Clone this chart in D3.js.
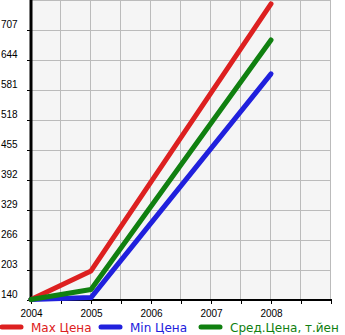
<!DOCTYPE html>
<html>
<head>
<meta charset="utf-8">
<script src="https://cdn.jsdelivr.net/npm/d3@7"></script>
<style>
body { margin: 0; background: #fff; }
svg { display: block; font-family: "DejaVu Sans", sans-serif; }
</style>
</head>
<body>
<svg width="345" height="335"></svg>
<script>
var years = [2004, 2005, 2006, 2007, 2008];
var dataYears = [2004, 2005, 2008];
var maxPrice = [141, 201, 762];
var minPrice = [141, 145, 615];
var avgPrice = [141, 162, 686];
var yTicks = [140, 203, 266, 329, 392, 455, 518, 581, 644, 707];
var seriesNames = ["Max Цена", "Min Цена", "Сред.Цена, т.йен"];
var seriesColors = ["#dd2020", "#2020dd", "#108010"];

var svg = d3.select("svg");
var plotLeft = 31, plotRight = 331, plotTop = 0, plotBottom = 300;

var x = d3.scaleLinear().domain([2004, 2009]).range([plotLeft, plotRight]);
var y = d3.scaleLinear().domain([140, 770]).range([plotBottom, plotTop]);

svg.append("rect")
    .attr("x", plotLeft).attr("y", plotTop)
    .attr("width", plotRight - plotLeft).attr("height", plotBottom - plotTop)
    .attr("fill", "#f5f5f5");

// grid
var halfYears = d3.range(2004.5, 2009.01, 0.5);
svg.append("g").selectAll("line")
    .data(halfYears)
    .enter().append("line")
      .attr("x1", function(d) { return Math.round(x(d)) - 0.5; })
      .attr("x2", function(d) { return Math.round(x(d)) - 0.5; })
      .attr("y1", plotTop).attr("y2", plotBottom)
      .attr("stroke", "#bbb");

var yGrid = d3.range(140 + 63, 771, 63);
svg.append("g").selectAll("line")
    .data(yGrid)
    .enter().append("line")
      .attr("x1", plotLeft).attr("x2", plotRight)
      .attr("y1", function(d) { return Math.round(y(d)) + 0.5; })
      .attr("y2", function(d) { return Math.round(y(d)) + 0.5; })
      .attr("stroke", "#bbb");

// axes
var xAxis = d3.axisBottom(x)
    .tickValues(d3.range(2004, 2009.01, 0.5))
    .tickSize(4)
    .tickFormat(function(d) { return years.indexOf(d) >= 0 ? d : ""; });
var gx = svg.append("g")
    .attr("transform", "translate(0," + plotBottom + ")")
    .call(xAxis);
gx.select(".domain").attr("stroke", "#000").attr("stroke-width", 2).attr("d", "M" + plotLeft + ",0H" + (plotRight + 1));
gx.selectAll(".tick line").attr("stroke", "#000");
gx.selectAll("text").attr("font-size", 10).attr("fill", "#000").attr("dy", "0.95em");

var yAxis = d3.axisLeft(y).tickValues(yTicks).tickSize(4).tickFormat(d3.format("d"));
var gy = svg.append("g")
    .attr("transform", "translate(" + plotLeft + ",0)")
    .call(yAxis);
gy.select(".domain").attr("stroke", "#000").attr("stroke-width", 3).attr("d", "M0," + plotTop + "V" + (plotBottom + 1));
gy.selectAll(".tick line").attr("stroke", "#000");
gy.selectAll("text")
    .attr("font-size", 10).attr("fill", "#000")
    .attr("text-anchor", "start").attr("x", -30).attr("dy", "-0.25em");

// lines
var line = d3.line()
    .x(function(d, i) { return x(dataYears[i]); })
    .y(function(d) { return y(d); });

[maxPrice, minPrice, avgPrice].forEach(function(s, i) {
  svg.append("path")
      .datum(s)
      .attr("d", line)
      .attr("fill", "none")
      .attr("stroke", seriesColors[i])
      .attr("stroke-width", 5)
      .attr("stroke-linecap", "round")
      .attr("stroke-linejoin", "round");
});

// legend
var legendX = [0, 99, 199];
var legend = svg.append("g").selectAll("g")
    .data(seriesNames)
    .enter().append("g")
      .attr("transform", function(d, i) { return "translate(" + legendX[i] + ",327)"; });
legend.append("line")
    .attr("x1", 2).attr("x2", 21)
    .attr("stroke", function(d, i) { return seriesColors[i]; })
    .attr("stroke-width", 5).attr("stroke-linecap", "round");
legend.append("text")
    .attr("x", 31).attr("y", 4.5)
    .attr("font-size", 12)
    .attr("fill", function(d, i) { return seriesColors[i]; })
    .text(function(d) { return d; });
</script>
</body>
</html>
